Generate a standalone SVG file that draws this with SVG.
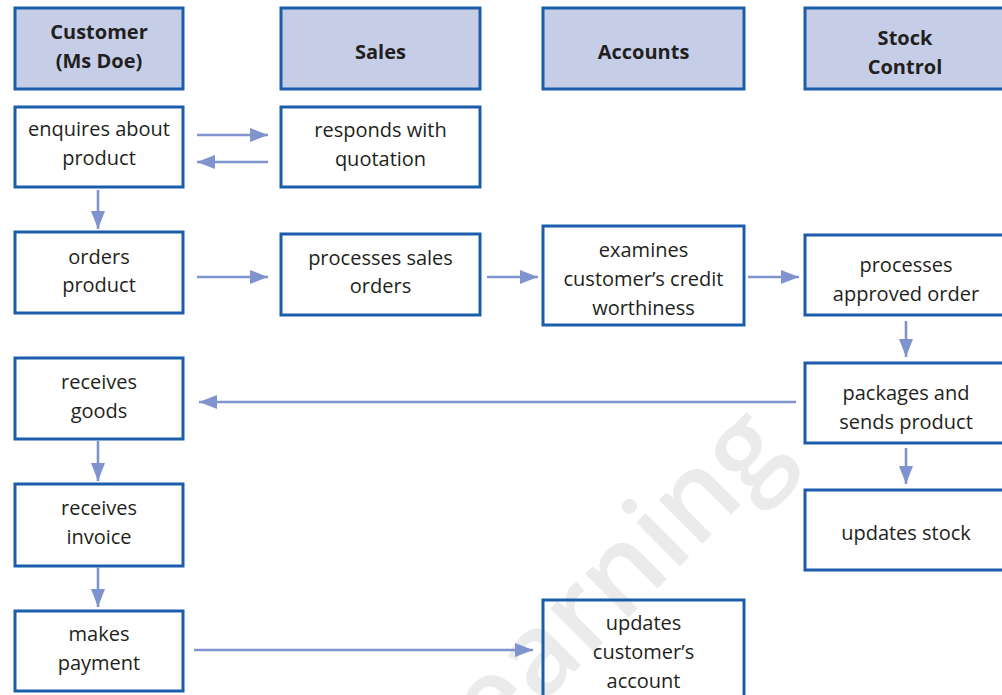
<svg xmlns="http://www.w3.org/2000/svg" width="1002" height="695" viewBox="0 0 1002 695">
  <style>
    .hdr { fill: #c6cee7; stroke: #1b5dab; stroke-width: 3; }
    .box { fill: none; stroke: #1b5dab; stroke-width: 3; }
    .t { font-family: "Open Sans", "Noto Sans", sans-serif; font-size: 20px; fill: #231f20; text-anchor: middle; }
    .th { font-family: "Open Sans", "Noto Sans", sans-serif; font-size: 20px; font-weight: bold; fill: #231f20; text-anchor: middle; }
    .arr { stroke: #7f93cf; stroke-width: 2.6; fill: none; marker-end: url(#head); }
    .wm { font-family: "Open Sans", "Noto Sans", sans-serif; font-size: 114px; font-weight: 600; fill: #ebebeb; }
  </style>
  <defs>
    <marker id="head" markerUnits="userSpaceOnUse" markerWidth="20" markerHeight="16" refX="18" refY="7" orient="auto">
      <path d="M0,0 L18,7 L0,14 Z" fill="#7f93cf"/>
    </marker>
  </defs>

  <rect width="1002" height="695" fill="#ffffff"/>

  <!-- faint publisher watermark -->
  <text class="wm" x="0" y="0" transform="translate(494,752) rotate(-45)">earning</text>

  <!-- column headers -->
  <g id="hdr-customer">
    <rect class="hdr" x="15" y="8" width="168" height="81"/>
    <text class="th" x="99" y="39">Customer</text>
    <text class="th" x="99" y="68">(Ms Doe)</text>
  </g>
  <g id="hdr-sales">
    <rect class="hdr" x="281" y="8" width="199" height="81"/>
    <text class="th" x="380.5" y="59">Sales</text>
  </g>
  <g id="hdr-accounts">
    <rect class="hdr" x="543" y="8" width="201" height="81"/>
    <text class="th" x="643.5" y="59">Accounts</text>
  </g>
  <g id="hdr-stock">
    <rect class="hdr" x="805" y="8" width="202" height="81"/>
    <text class="th" x="905" y="45">Stock</text>
    <text class="th" x="905" y="74">Control</text>
  </g>

  <!-- process steps -->
  <g id="enquires">
    <rect class="box" x="15" y="107" width="168" height="80"/>
    <text class="t" x="99" y="136">enquires about</text>
    <text class="t" x="99" y="165">product</text>
  </g>
  <g id="responds">
    <rect class="box" x="281" y="107" width="199" height="80"/>
    <text class="t" x="380.5" y="137">responds with</text>
    <text class="t" x="380.5" y="166">quotation</text>
  </g>
  <g id="orders">
    <rect class="box" x="15" y="232" width="168" height="81"/>
    <text class="t" x="99" y="264">orders</text>
    <text class="t" x="99" y="292">product</text>
  </g>
  <g id="processes-sales">
    <rect class="box" x="281" y="234" width="199" height="81"/>
    <text class="t" x="380.5" y="265">processes sales</text>
    <text class="t" x="380.5" y="293">orders</text>
  </g>
  <g id="examines">
    <rect class="box" x="543" y="226" width="201" height="99"/>
    <text class="t" x="643.5" y="257">examines</text>
    <text class="t" x="643.5" y="286">customer’s credit</text>
    <text class="t" x="643.5" y="315">worthiness</text>
  </g>
  <g id="processes-approved">
    <rect class="box" x="805" y="235" width="202" height="80"/>
    <text class="t" x="906" y="272">processes</text>
    <text class="t" x="906" y="301">approved order</text>
  </g>
  <g id="receives-goods">
    <rect class="box" x="15" y="358" width="168" height="81"/>
    <text class="t" x="99" y="389">receives</text>
    <text class="t" x="99" y="418">goods</text>
  </g>
  <g id="packages">
    <rect class="box" x="805" y="363" width="202" height="80"/>
    <text class="t" x="906" y="400">packages and</text>
    <text class="t" x="906" y="429">sends product</text>
  </g>
  <g id="receives-invoice">
    <rect class="box" x="15" y="484" width="168" height="82"/>
    <text class="t" x="99" y="515">receives</text>
    <text class="t" x="99" y="544">invoice</text>
  </g>
  <g id="updates-stock">
    <rect class="box" x="805" y="490" width="202" height="80"/>
    <text class="t" x="906" y="540">updates stock</text>
  </g>
  <g id="makes-payment">
    <rect class="box" x="15" y="611" width="168" height="80"/>
    <text class="t" x="99" y="641">makes</text>
    <text class="t" x="99" y="670">payment</text>
  </g>
  <g id="updates-account">
    <rect class="box" x="543" y="600" width="201" height="102"/>
    <text class="t" x="643.5" y="630">updates</text>
    <text class="t" x="643.5" y="659">customer’s</text>
    <text class="t" x="643.5" y="688">account</text>
  </g>

  <!-- connectors -->
  <g id="connectors">
    <line class="arr" x1="197" y1="135" x2="268" y2="135"/>
    <line class="arr" x1="268" y1="162" x2="197" y2="162"/>
    <line class="arr" x1="98" y1="190" x2="98" y2="229"/>
    <line class="arr" x1="197" y1="277" x2="268" y2="277"/>
    <line class="arr" x1="487" y1="277" x2="538" y2="277"/>
    <line class="arr" x1="748" y1="277" x2="799" y2="277"/>
    <line class="arr" x1="906" y1="321" x2="906" y2="357"/>
    <line class="arr" x1="796" y1="402" x2="199" y2="402"/>
    <line class="arr" x1="98" y1="441" x2="98" y2="481"/>
    <line class="arr" x1="98" y1="567" x2="98" y2="607"/>
    <line class="arr" x1="194" y1="650" x2="533" y2="650"/>
    <line class="arr" x1="906" y1="448" x2="906" y2="484"/>
  </g>
</svg>
